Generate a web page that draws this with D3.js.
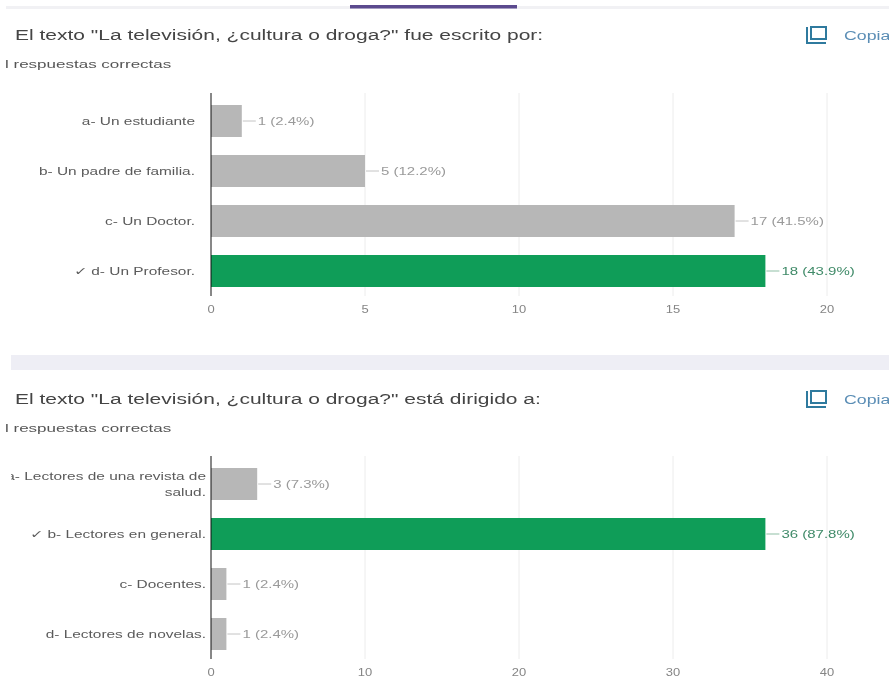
<!DOCTYPE html>
<html><head><meta charset="utf-8">
<script src="https://cdn.jsdelivr.net/npm/d3@7"></script>
<style>html,body{margin:0;padding:0;background:#fff;overflow:hidden}svg{display:block}text{font-family:"Liberation Sans",Arial,sans-serif}</style>
</head><body><svg id="c" width="889" height="679"></svg>
<script>
const title1 = 'El texto "La televisión, ¿cultura o droga?" fue escrito por:';
const categories1 = [["a- Un estudiante"],["b- Un padre de familia."],["c- Un Doctor."],["✓ d- Un Profesor."]];
const values1 = [1,5,17,18];
const labels1 = ["1 (2.4%)","5 (12.2%)","17 (41.5%)","18 (43.9%)"];
const correct1 = [false,false,false,true];
const ticks1 = [0,5,10,15,20];
const title2 = 'El texto "La televisión, ¿cultura o droga?" está dirigido a:';
const categories2 = [["a- Lectores de una revista de","salud."],["✓ b- Lectores en general."],["c- Docentes."],["d- Lectores de novelas."]];
const values2 = [3,36,1,1];
const labels2 = ["3 (7.3%)","36 (87.8%)","1 (2.4%)","1 (2.4%)"];
const correct2 = [false,true,false,false];
const ticks2 = [0,10,20,30,40];
const subtitle = "l respuestas correctas";
const copy = "Copia";

const svg = d3.select("#c");
const defs = svg.append("defs");
defs.append("filter").attr("id","soft").attr("x","-5%").attr("width","110%").append("feGaussianBlur").attr("stdDeviation",0.45);
defs.append("clipPath").attr("id","pageclip").append("rect").attr("x",11).attr("y",0).attr("width",878).attr("height",679);
svg.append("rect").attr("x",6).attr("y",6).attr("width",883).attr("height",3).attr("fill","#f1f1f4");
svg.append("rect").attr("x",350).attr("y",5).attr("width",167).attr("height",3.5).attr("fill","#5b4a8e");
svg.append("rect").attr("x",11).attr("y",355).attr("width",878).attr("height",15).attr("fill","#eeeef5");

function stext(g,x,y,t,size,fill,sx,anchor){
  return g.append("text").attr("transform",`translate(${x},${y}) scale(${sx},1)`)
    .attr("text-anchor",anchor||"start").attr("font-size",size).attr("fill",fill)
    .attr("filter","url(#soft)").text(t);
}
function panel(o){
  const g = svg.append("g");
  stext(g,15,o.titleY-1,o.title,15,"#444",1.4);
  stext(g,5,o.titleY+27,subtitle,10.5,"#555",1.62);
  const ic = g.append("g").attr("fill","none").attr("stroke","#2f7a9e").attr("stroke-width",2);
  ic.append("rect").attr("x",811).attr("y",o.titleY-14).attr("width",15).attr("height",12);
  ic.append("path").attr("d",`M807 ${o.titleY-14}V${o.titleY+2}H826`);
  stext(g,844,o.titleY-1,copy,12.5,"#5a8db5",1.42);

  const x = d3.scaleLinear().domain(o.domain).range([211,827]);
  const y = d3.scaleBand().domain(d3.range(o.values.length)).range([o.top,o.bottom]).paddingInner(.36).paddingOuter(.18);
  g.selectAll(".grid").data(o.ticks.slice(1)).join("line")
    .attr("x1",d=>x(d)).attr("x2",d=>x(d)).attr("y1",o.top-3).attr("y2",o.bottom).attr("stroke","#ececec");
  g.selectAll(".bar").data(o.values).join("rect")
    .attr("x",x(0)).attr("y",(d,i)=>y(i)).attr("width",d=>x(d)-x(0)).attr("height",y.bandwidth())
    .attr("fill",(d,i)=>o.correct[i]?"#0f9d58":"#b7b7b7");
  g.append("line").attr("x1",x(0)).attr("x2",x(0)).attr("y1",o.top-3).attr("y2",o.bottom).attr("stroke","#111").attr("stroke-width",1);
  g.selectAll(".lead").data(o.values).join("line")
    .attr("x1",d=>x(d)+1).attr("x2",d=>x(d)+14).attr("y1",(d,i)=>y(i)+y.bandwidth()/2).attr("y2",(d,i)=>y(i)+y.bandwidth()/2)
    .attr("stroke",(d,i)=>o.correct[i]?"#8fbfa5":"#c4c4c4");
  o.values.forEach((d,i)=>{
    stext(g,x(d)+16,y(i)+y.bandwidth()/2+3.5,o.labels[i],10,o.correct[i]?"#3f8a68":"#9a9a9a",1.5);
  });
  const cg = g.append("g").attr("clip-path","url(#pageclip)");
  o.categories.forEach((lines,i)=>{
    lines.forEach((t,k)=>{
      stext(cg,o.catX,y(i)+y.bandwidth()/2+4+(k-(lines.length-1)/2)*16,t,10.5,"#5a5a5a",1.47,"end");
    });
  });
  o.ticks.forEach(d=>{
    stext(g,x(d),o.bottom+17,d,10,"#858585",1.3,"middle");
  });
}
panel({title:title1,titleY:41,catX:195,categories:categories1,values:values1,labels:labels1,correct:correct1,ticks:ticks1,domain:[0,20],top:96,bottom:296});
panel({title:title2,titleY:405,catX:206,categories:categories2,values:values2,labels:labels2,correct:correct2,ticks:ticks2,domain:[0,40],top:459,bottom:659});
</script></body></html>
